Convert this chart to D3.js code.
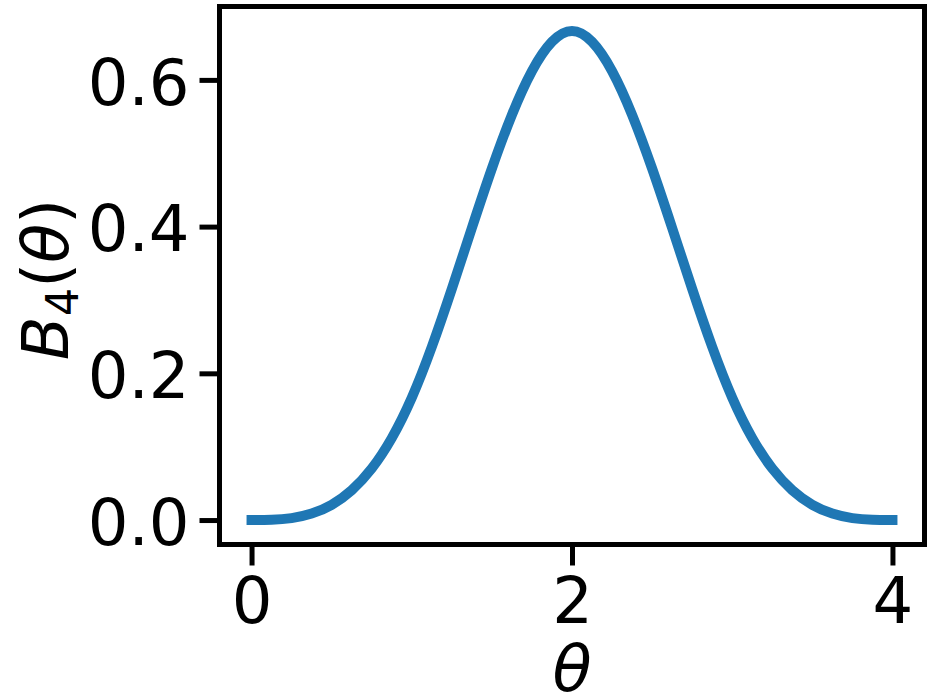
<!DOCTYPE html>
<html>
<head>
<meta charset="utf-8">
<script src="https://cdn.jsdelivr.net/npm/d3@7"></script>
<style>
  body { margin: 0; background: #fff; }
  svg { display: block; font-family: "DejaVu Sans", sans-serif; }
</style>
</head>
<body>
<svg id="chart" width="934" height="700"></svg>
<script>
// Values
const thetaValues = [0, 0.125, 0.25, 0.375, 0.5, 0.625, 0.75, 0.875, 1, 1.125, 1.25, 1.375, 1.5, 1.625, 1.75, 1.875, 2,
  2.125, 2.25, 2.375, 2.5, 2.625, 2.75, 2.875, 3, 3.125, 3.25, 3.375, 3.5, 3.625, 3.75, 3.875, 4];
const bValues = [0, 0.0003, 0.0026, 0.0088, 0.0208, 0.0407, 0.0703, 0.1117, 0.1667, 0.2360, 0.3151, 0.3981, 0.4792, 0.5524, 0.6120, 0.6520, 0.6667,
  0.6520, 0.6120, 0.5524, 0.4792, 0.3981, 0.3151, 0.2360, 0.1667, 0.1117, 0.0703, 0.0407, 0.0208, 0.0088, 0.0026, 0.0003, 0];
const xTicks = [0, 2, 4];
const xTickLabels = ["0", "2", "4"];
const yTicks = [0, 0.2, 0.4, 0.6];
const yTickLabels = ["0.0", "0.2", "0.4", "0.6"];

(function () {
const svg = d3.select("#chart");
const pL = 219.5, pR = 924.5, pT = 6.5, pB = 544.5;

const xMin = d3.min(thetaValues), xMax = d3.max(thetaValues);
const xPad = (xMax - xMin) * 0.05;
const x = d3.scaleLinear().domain([xMin - xPad, xMax + xPad]).range([pL, pR]);
const yMin = d3.min(bValues), yMax = d3.max(bValues);
const yPad = (yMax - yMin) * 0.05;
const y = d3.scaleLinear().domain([yMin - yPad, yMax + yPad]).range([pB, pT]);

const data = thetaValues.map((t, i) => ({ t, v: bValues[i] }));

// line
const line = d3.line().x(d => x(d.t)).y(d => y(d.v)).curve(d3.curveNatural);
svg.append("path")
  .datum(data)
  .attr("d", line)
  .attr("fill", "none")
  .attr("stroke", "#1f77b4")
  .attr("stroke-width", 10)
  .attr("stroke-linecap", "square")
  .attr("stroke-linejoin", "round");

// axes
const fs = 64;
const xAxis = d3.axisBottom(x).tickValues(xTicks).tickFormat((d, i) => xTickLabels[i])
  .tickSize(21).tickPadding(9);
const gx = svg.append("g").attr("transform", `translate(0,${pB})`).call(xAxis);
gx.select(".domain").remove();
gx.selectAll(".tick line").attr("stroke", "#000").attr("stroke-width", 5);
gx.selectAll(".tick text").attr("font-size", fs).attr("font-family", "DejaVu Sans").attr("fill", "#000")
  .attr("y", 78.5).attr("dy", 0);

const yAxis = d3.axisLeft(y).tickValues(yTicks).tickFormat((d, i) => yTickLabels[i])
  .tickSize(20).tickPadding(10);
const gy = svg.append("g").attr("transform", `translate(${pL},0)`).call(yAxis);
gy.select(".domain").remove();
gy.selectAll(".tick line").attr("stroke", "#000").attr("stroke-width", 5);
gy.selectAll(".tick text").attr("font-size", fs).attr("font-family", "DejaVu Sans").attr("fill", "#000")
  .attr("x", -30).attr("dy", "0.38em");

// spines
svg.append("rect")
  .attr("x", pL).attr("y", pT)
  .attr("width", pR - pL).attr("height", pB - pT)
  .attr("fill", "none").attr("stroke", "#000").attr("stroke-width", 5);

// x label
svg.append("text")
  .attr("x", (pL + pR) / 2).attr("y", 691)
  .attr("text-anchor", "middle")
  .attr("font-size", fs).attr("font-style", "italic").attr("font-family", "DejaVu Sans")
  .text("θ");

// y label
const yl = svg.append("text")
  .attr("transform", `translate(68,${(pT + pB) / 2 + 4}) rotate(-90)`)
  .attr("text-anchor", "middle")
  .attr("font-size", fs).attr("font-family", "DejaVu Sans");
yl.append("tspan").attr("font-style", "italic").text("B");
yl.append("tspan").attr("font-size", fs * 0.7).attr("dy", 10).text("4");
yl.append("tspan").attr("dy", -10).text("(");
yl.append("tspan").attr("font-style", "italic").text("θ");
yl.append("tspan").text(")");
})();
</script>
</body>
</html>
